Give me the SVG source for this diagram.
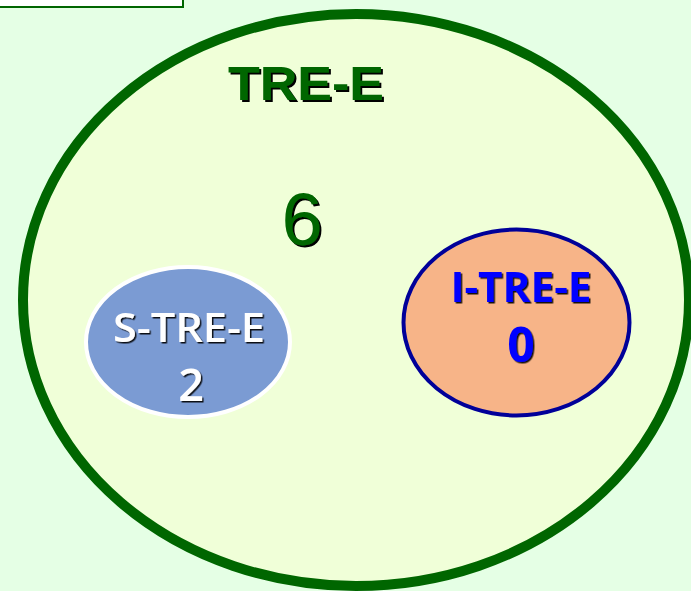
<svg xmlns="http://www.w3.org/2000/svg" width="691" height="591" viewBox="0 0 691 591">
<defs>
<filter id="sh" x="-10%" y="-10%" width="130%" height="130%">
<feDropShadow dx="2" dy="2" stdDeviation="0.3" flood-color="#000000" flood-opacity="1"/>
</filter>
<filter id="sh1" x="-10%" y="-10%" width="130%" height="130%">
<feDropShadow dx="1.5" dy="1.5" stdDeviation="0.4" flood-color="#000000" flood-opacity="0.9"/>
</filter>
</defs>
<style>
.t{font-family:"Liberation Sans",Arial,sans-serif;text-anchor:middle;filter:url(#sh)}
.h{font-family:"Open Sans","DejaVu Sans",sans-serif;text-anchor:middle}
</style>
<rect x="0" y="0" width="691" height="591" fill="#E5FFE5"/>
<g id="box">
<rect x="-5" y="-5" width="188" height="12" fill="#FFFFFF" stroke="#006600" stroke-width="2"/>
</g>
<g id="tre-e">
<ellipse cx="356" cy="300" rx="333" ry="286" fill="#F0FFD8" stroke="#006600" stroke-width="10"/>
<text class="t" x="306" y="100" font-size="49" font-weight="bold" fill="#006600" textLength="156" lengthAdjust="spacingAndGlyphs">TRE-E</text>
<text class="t" x="302" y="245" font-size="74" fill="#006600">6</text>
</g>
<g id="s-tre-e">
<ellipse cx="188" cy="342" rx="102" ry="75" fill="#7B9BD3" stroke="#FFFFFF" stroke-width="4"/>
<text class="h" x="189" y="342" font-size="39" font-weight="600" fill="#FFFFFF" filter="url(#sh1)" textLength="152" lengthAdjust="spacingAndGlyphs">S-TRE-E</text>
<text class="h" x="191" y="401" font-size="45" font-weight="600" fill="#FFFFFF" filter="url(#sh1)">2</text>
</g>
<g id="i-tre-e">
<ellipse cx="516.5" cy="322.5" rx="113" ry="93" fill="#F7B488" stroke="#000099" stroke-width="4"/>
<text class="h" x="521" y="302" font-size="41" font-weight="bold" fill="#0000FF" filter="url(#sh1)" textLength="141" lengthAdjust="spacingAndGlyphs">I-TRE-E</text>
<text class="h" x="521" y="362" font-size="48" font-weight="bold" fill="#0000FF" filter="url(#sh1)">0</text>
</g>
<g id="connectors"/>
</svg>
